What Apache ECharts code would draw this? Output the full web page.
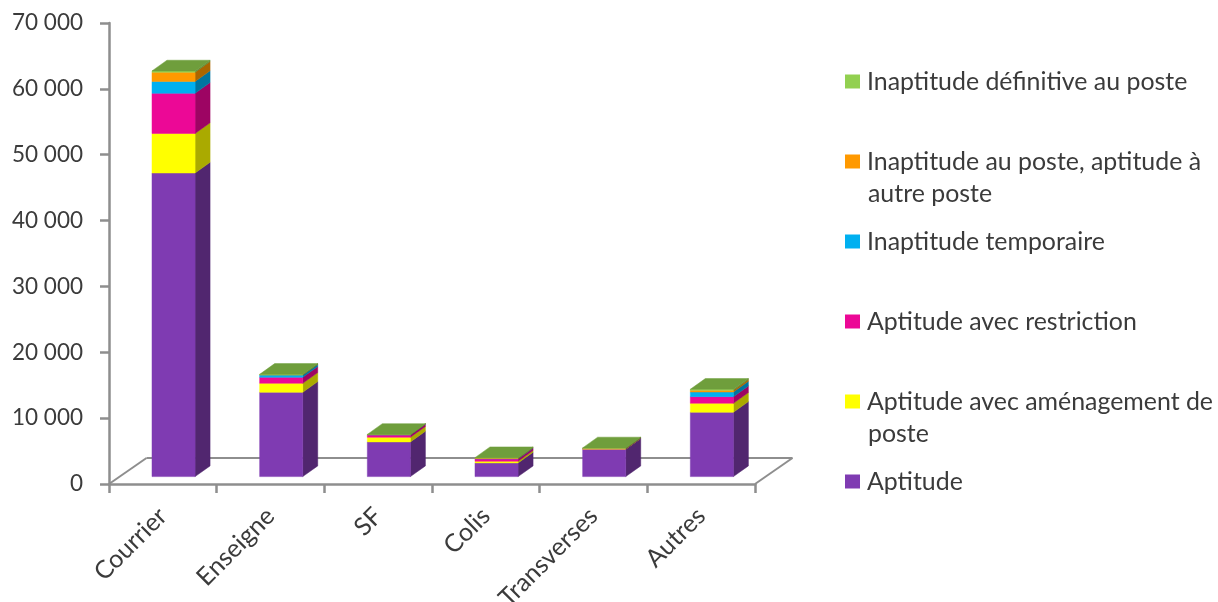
<!DOCTYPE html>
<html>
<head>
<meta charset="utf-8">
<style>html,body{margin:0;padding:0;background:#fff}#chart{width:1218px;height:602px}</style>
<script src="https://cdn.jsdelivr.net/npm/echarts@6/dist/echarts.min.js"></script>
</head>
<body>
<div id="chart"></div>
<script>
// Medical-visit outcomes per business line, stacked
const categories = ['Courrier', 'Enseigne', 'SF', 'Colis', 'Transverses', 'Autres'];
const aptitude =        [46100, 12800, 5270, 2080, 4160, 9770];
const amenagement =     [6000, 1370, 710, 260, 30, 1370];
const restriction =     [6100, 910, 350, 350, 60, 1000];
const temporaire =      [1800, 350, 30, 60, 30, 710];
const autrePoste =      [1400, 50, 30, 90, 40, 260];
const definitive =      [200, 50, 20, 40, 40, 150];
const yTicks = { min: 0, max: 70000, interval: 10000 };

const stackNames = [
  'Aptitude',
  'Aptitude avec aménagement de poste',
  'Aptitude avec restriction',
  'Inaptitude temporaire',
  'Inaptitude au poste, aptitude à autre poste',
  'Inaptitude définitive au poste'
];
const stackValues = [aptitude, amenagement, restriction, temporaire, autrePoste, definitive];
const frontColors = ['#7F3BB2', '#FFFF00', '#EC0896', '#00B0F0', '#FF9900', '#92D050'];
const sideColors = ['#51266F', '#AAAA00', '#9D0463', '#0075A0', '#AA6600', '#618B35'];
const capColor = '#6F9E3C';
const legendFirstLines = {
  'Aptitude avec aménagement de poste': 'Aptitude avec aménagement de',
  'Inaptitude au poste, aptitude à autre poste': 'Inaptitude au poste, aptitude à'
};

const FONT = 'Lato, Carlito, sans-serif';
const TEXT = '#3B3B3B';
const AXIS = '#8E8E8E';
const FLOOR_DX = 37.5, FLOOR_DY = -26;   // depth of the chart floor
const BAR_DX = 15, BAR_DY = -10.7;       // depth of one bar
const BAR_SHIFT_X = 10.7, BAR_SHIFT_Y = -7.4; // bars stand in the middle of the floor
const BAR_WIDTH_RATIO = 0.4;

function shade(points, fill) {
  return { type: 'polygon', shape: { points }, style: { fill, stroke: fill, lineWidth: 0.5 } };
}

function barRenderer(stackIndex) {
  return function (params, api) {
    const cat = api.value(0);
    const bottom = api.coord([cat, api.value(1)]);
    const top = api.coord([cat, api.value(2)]);
    const w = api.size([1, 0])[0] * BAR_WIDTH_RATIO;
    const x0 = bottom[0] + BAR_SHIFT_X - w / 2;
    const x1 = x0 + w;
    const yb = bottom[1] + BAR_SHIFT_Y;
    const yt = top[1] + BAR_SHIFT_Y;
    const children = [
      shade([[x1, yb], [x1 + BAR_DX, yb + BAR_DY], [x1 + BAR_DX, yt + BAR_DY], [x1, yt]], sideColors[stackIndex]),
      shade([[x0, yb], [x1, yb], [x1, yt], [x0, yt]], frontColors[stackIndex])
    ];
    if (stackIndex === stackNames.length - 1) {
      children.push(shade([[x0, yt], [x1, yt], [x1 + BAR_DX, yt + BAR_DY], [x0 + BAR_DX, yt + BAR_DY]], capColor));
    }
    return { type: 'group', children };
  };
}

function floorRenderer(params) {
  const r = params.coordSys;
  const left = r.x, right = r.x + r.width, base = r.y + r.height;
  const line = (x1, y1, x2, y2) => ({
    type: 'line', shape: { x1, y1, x2, y2 }, style: { stroke: AXIS, lineWidth: 2 }
  });
  return {
    type: 'group',
    children: [
      line(left, base, left + FLOOR_DX, base + FLOOR_DY),
      line(left + FLOOR_DX, base + FLOOR_DY, right + FLOOR_DX, base + FLOOR_DY),
      line(right + FLOOR_DX, base + FLOOR_DY, right, base)
    ]
  };
}

let running = new Array(categories.length).fill(0);
const barSeries = stackNames.map((name, s) => {
  const rows = categories.map((_, i) => {
    const row = [i, running[i], running[i] + stackValues[s][i]];
    running[i] = row[2];
    return row;
  });
  return {
    type: 'custom',
    name,
    data: rows,
    z: 3,
    encode: { x: 0, y: [1, 2] },
    itemStyle: { color: frontColors[s] },
    renderItem: barRenderer(s)
  };
});

const chart = echarts.init(document.getElementById('chart'), null, { renderer: 'canvas' });
chart.setOption({
  animation: false,
  backgroundColor: '#fff',
  grid: { left: 109, top: 23, width: 646, height: 461, outerBoundsMode: 'none' },
  xAxis: {
    type: 'category',
    data: categories,
    axisLine: { lineStyle: { color: AXIS, width: 2.5 } },
    axisTick: { show: true, length: 9, alignWithLabel: false, lineStyle: { color: AXIS, width: 2.5 } },
    axisLabel: { rotate: 45, margin: 28, padding: [22, 0, 0, 0], interval: 0, fontFamily: FONT, fontSize: 25, color: TEXT }
  },
  yAxis: {
    type: 'value',
    min: yTicks.min, max: yTicks.max, interval: yTicks.interval,
    splitLine: { show: false },
    axisLine: { show: true, lineStyle: { color: AXIS, width: 2.5 } },
    axisTick: { show: true, length: 9, lineStyle: { color: AXIS, width: 2.5 } },
    axisLabel: {
      margin: 26, fontFamily: FONT, fontSize: 22.5, color: TEXT,
      formatter: v => String(v).replace(/\B(?=(\d{3})+$)/g, ' ')
    }
  },
  legend: {
    orient: 'vertical',
    left: 845, top: 69,
    padding: 0,
    itemWidth: 15, itemHeight: 14, itemGap: 55,
    icon: 'rect',
    selectedMode: false,
    data: stackNames.slice().reverse(),
    formatter: name => legendFirstLines[name] || name,
    textStyle: { fontFamily: FONT, fontSize: 24.9, color: TEXT, padding: [0, 0, 0, 2] }
  },
  graphic: [
    { type: 'text', left: 868, top: 181, style: { text: 'autre poste', fontFamily: FONT, fontSize: 24.9, fill: TEXT } },
    { type: 'text', left: 868, top: 421, style: { text: 'poste', fontFamily: FONT, fontSize: 24.9, fill: TEXT } }
  ],
  series: [
    { type: 'custom', silent: true, z: 1, data: [[0, 0]], encode: { x: 0, y: 1 }, renderItem: floorRenderer }
  ].concat(barSeries)
});
</script>
</body>
</html>
